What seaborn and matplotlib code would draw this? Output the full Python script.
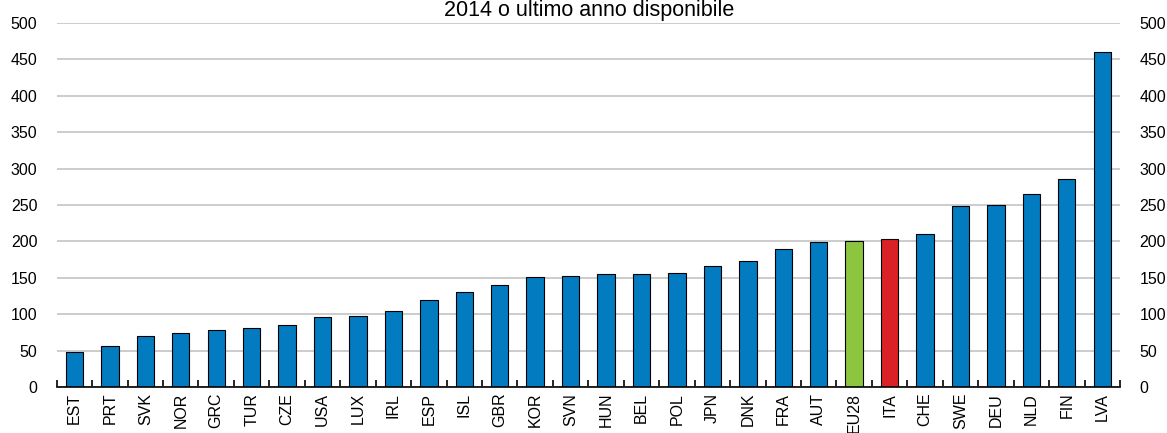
import matplotlib
matplotlib.use("Agg")
import matplotlib.pyplot as plt
import seaborn as sns
import pandas as pd
import numpy as np

# Data
countries = ["EST", "PRT", "SVK", "NOR", "GRC", "TUR", "CZE", "USA", "LUX", "IRL",
             "ESP", "ISL", "GBR", "KOR", "SVN", "HUN", "BEL", "POL", "JPN", "DNK",
             "FRA", "AUT", "EU28", "ITA", "CHE", "SWE", "DEU", "NLD", "FIN", "LVA"]
values = [48, 57, 70, 75, 78, 82, 86, 96, 98, 104,
          120, 131, 140, 151, 153, 156, 156, 157, 167, 173,
          190, 199, 200, 204, 210, 248, 250, 265, 285, 460]
title = "2014 o ultimo anno disponibile"
yticks = [0, 50, 100, 150, 200, 250, 300, 350, 400, 450, 500]

BLUE = "#037BC1"
GREEN = "#8CC63F"
RED = "#DA2128"
highlight = {"EU28": GREEN, "ITA": RED}
palette = {c: highlight.get(c, BLUE) for c in countries}

df = pd.DataFrame({"country": countries, "value": values})

sns.set_theme(style="white")
plt.rcParams["font.family"] = ["Liberation Sans", "DejaVu Sans"]

fig = plt.figure(figsize=(11.67, 4.33), dpi=100)
ax = fig.add_axes([0.0486, 0.1055, 0.9111, 0.8421])

sns.barplot(data=df, x="country", y="value", hue="country", order=countries,
            palette=palette, legend=False, width=0.49, saturation=1,
            edgecolor="black", linewidth=0.8, ax=ax, zorder=3)

ax.set_xlim(-0.5, len(countries) - 0.5)
ax.set_ylim(0, 500)
ax.set_yticks(yticks)
ax.set_yticklabels([str(t) for t in yticks])
ax.yaxis.grid(True, color="#C8C8C8", linewidth=1.3, zorder=0)
ax.xaxis.grid(False)
ax.set_xlabel("")
ax.set_ylabel("")

for side in ["top", "left", "right"]:
    ax.spines[side].set_visible(False)
ax.spines["bottom"].set_color("black")
ax.spines["bottom"].set_linewidth(1.2)
ax.spines["bottom"].set_zorder(4)

ax.tick_params(axis="y", which="both", length=0, labelsize=11.5, pad=14,
               left=False, right=False, labelleft=True, labelright=True,
               labelcolor="black")
ax.tick_params(axis="x", which="major", length=0, labelsize=11.5, pad=4,
               labelrotation=90, labelcolor="black")
# Separator ticks between categories
ax.set_xticks(np.arange(-0.5, len(countries)), minor=True)
ax.tick_params(axis="x", which="minor", direction="in", length=5, width=1.2,
               color="black", bottom=True)

fig.text(0.5045, 1 - 15.7 / 433, title, ha="center", va="baseline",
         fontsize=15.5, color="black")

fig.savefig("out.png", dpi=100)
